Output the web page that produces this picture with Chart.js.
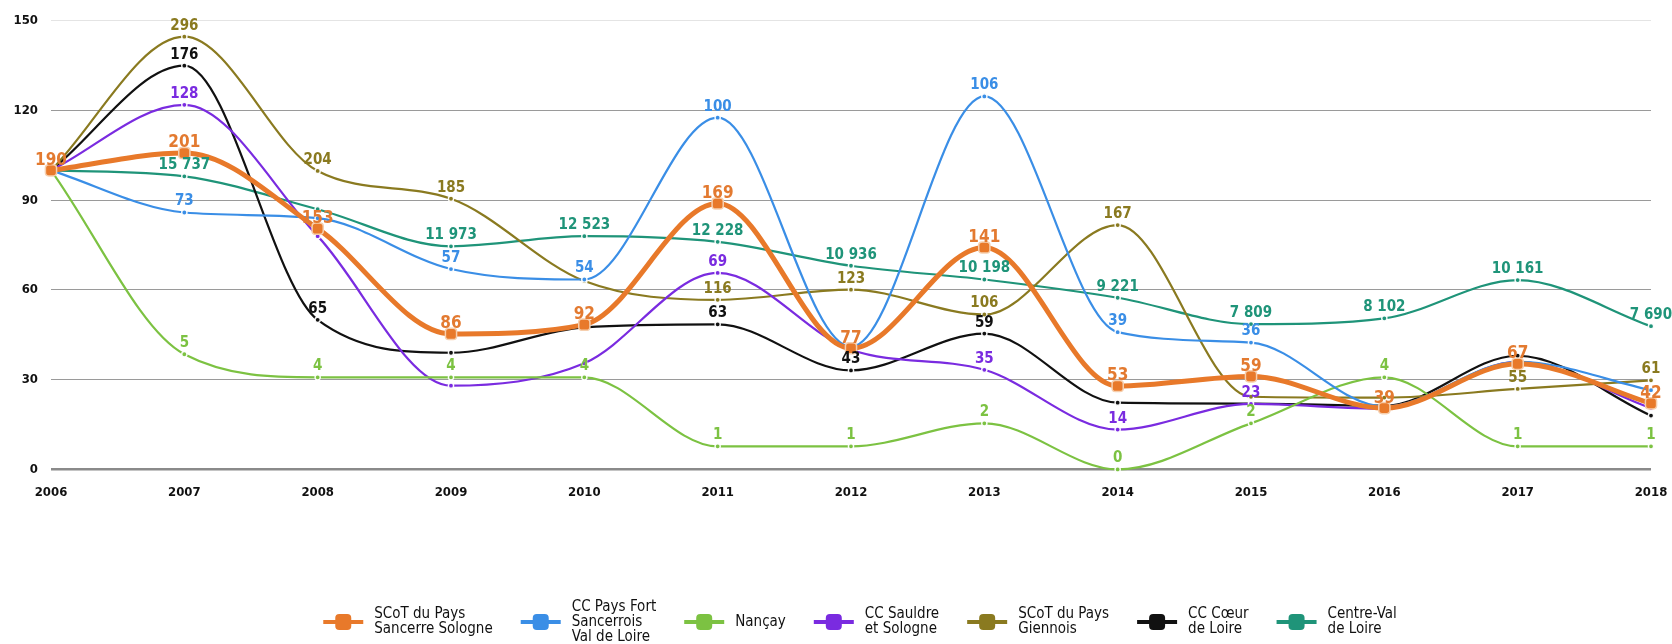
<!DOCTYPE html>
<html lang="fr">
<head>
<meta charset="utf-8">
<title>Évolution (base 100 en 2006)</title>
<script src="https://cdn.jsdelivr.net/npm/chart.js@4.4.1/dist/chart.umd.min.js"></script>
<style>
  html, body { margin: 0; padding: 0; background: #fff; }
  #wrap { width: 1672px; height: 644px; position: relative; }
</style>
</head>
<body>
<div id="wrap"><canvas id="chart" width="1672" height="644"></canvas></div>
<script>
// ---------------------------------------------------------------
// Données : indice base 100 en 2006 + valeurs absolues affichées
// ---------------------------------------------------------------
const years = ["2006", "2007", "2008", "2009", "2010", "2011", "2012",
               "2013", "2014", "2015", "2016", "2017", "2018"];
const yTicks = [0, 30, 60, 90, 120, 150];

const seriesNames = [
  "SCoT du Pays\nSancerre Sologne",
  "CC Pays Fort\nSancerrois\nVal de Loire",
  "Nançay",
  "CC Sauldre\net Sologne",
  "SCoT du Pays\nGiennois",
  "CC Cœur\nde Loire",
  "Centre-Val\nde Loire"
];

// indices
const sancerreIdx = [100, 105.8, 80.5, 45.3, 48.4, 88.9, 40.5, 74.2, 27.9, 31.1, 20.5, 35.3, 22.1];
const fortIdx     = [100, 85.9, 84, 67, 63.5, 117.6, 41, 124.7, 45.9, 42.4, 21, 36, 26.5];
const nancayIdx   = [100, 38.5, 30.8, 30.8, 30.8, 7.7, 7.7, 15.4, 0, 15.4, 30.8, 7.7, 7.7];
const sauldreIdx  = [100, 121.9, 78, 28, 35.5, 65.7, 40, 33.3, 13.3, 21.9, 20.3, 36, 20.5];
const giennoisIdx = [100, 144.7, 99.8, 90.5, 63, 56.7, 60.1, 51.8, 81.7, 24.3, 24, 26.9, 29.8];
const coeurIdx    = [100, 135, 50, 39, 47.5, 48.5, 33.1, 45.4, 22.3, 22, 21.3, 38, 18];
const regionIdx   = [100, 98, 87, 74.6, 78, 76.1, 68.1, 63.5, 57.4, 48.6, 50.5, 63.3, 47.9];

// valeurs absolues écrites au-dessus des points (null = non affichée)
const sancerreAbs = [190, 201, 153, 86, 92, 169, 77, 141, 53, 59, 39, 67, 42];
const fortAbs     = [null, 73, null, 57, 54, 100, null, 106, 39, 36, null, null, null];
const nancayAbs   = [null, 5, 4, 4, 4, 1, 1, 2, 0, 2, 4, 1, 1];
const sauldreAbs  = [null, 128, null, null, null, 69, null, 35, 14, 23, null, null, null];
const giennoisAbs = [null, 296, 204, 185, null, 116, 123, 106, 167, null, null, 55, 61];
const coeurAbs    = [null, 176, 65, null, null, 63, 43, 59, null, null, null, null, null];
const regionAbs   = [null, 15737, null, 11973, 12523, 12228, 10936, 10198, 9221, 7809, 8102, 10161, 7690];

const colors = ["#e8792a", "#3a8ee6", "#7cc242", "#7a2be0", "#8a7a20", "#111111", "#1f9479"];

const FONT = '"DejaVu Sans Condensed", "Liberation Sans Narrow", "DejaVu Sans", sans-serif';

// ---------------------------------------------------------------
function fmt(v) {
  return String(v).replace(/\B(?=(\d{3})+(?!\d))/g, " ");
}

function makeDataset(i, data, abs) {
  const main = i === 0;
  return {
    label: seriesNames[i],
    data: data,
    absLabels: abs,
    borderColor: colors[i],
    backgroundColor: colors[i],
    borderWidth: main ? 5 : 2.2,
    cubicInterpolationMode: "monotone",
    pointStyle: main ? "rectRounded" : "circle",
    pointRadius: main ? 6.5 : 2.6,
    pointBorderColor: main ? "#f6cfae" : "rgba(255,255,255,0.95)",
    pointBorderWidth: main ? 1.5 : 1.4,
    pointBackgroundColor: colors[i],
    clip: false
  };
}

// étiquettes de valeurs au-dessus des points
const valueLabels = {
  id: "valueLabels",
  afterDatasetsDraw(chart) {
    const ctx = chart.ctx;
    ctx.save();
    ctx.textAlign = "center";
    ctx.textBaseline = "middle";
    for (let di = chart.data.datasets.length - 1; di >= 0; di--) {
      const ds = chart.data.datasets[di];
      const meta = chart.getDatasetMeta(di);
      const main = di === 0;
      ctx.font = (main ? "bold 17px " : "bold 15px ") + FONT;
      ctx.fillStyle = main ? "#e37a30" : ds.borderColor;
      meta.data.forEach((pt, i) => {
        const v = ds.absLabels[i];
        if (v === null || v === undefined) return;
        ctx.fillText(fmt(v), pt.x, pt.y - (main ? 10 : 11));
      });
    }
    ctx.restore();
  }
};

// légende en bas (libellés sur plusieurs lignes)
const bottomLegend = {
  id: "bottomLegend",
  afterDraw(chart) {
    const ctx = chart.ctx;
    const area = chart.chartArea;
    ctx.save();
    ctx.font = "15px " + FONT;
    const lineH = 15;
    const markW = 40, gapText = 11, gapItem = 28;
    const items = chart.data.datasets.map((ds, i) => {
      const lines = ds.label.split("\n");
      const w = Math.max(...lines.map(l => ctx.measureText(l).width));
      return { color: colors[i], lines, w };
    });
    const total = items.reduce((s, it) => s + markW + gapText + it.w, 0) + gapItem * (items.length - 1);
    let x = (area.left + area.right) / 2 + 9 - total / 2;
    const cy = chart.height - 22;
    items.forEach(it => {
      // trait + carré arrondi
      ctx.strokeStyle = it.color;
      ctx.lineWidth = 4;
      ctx.beginPath();
      ctx.moveTo(x, cy);
      ctx.lineTo(x + markW, cy);
      ctx.stroke();
      ctx.fillStyle = it.color;
      ctx.beginPath();
      ctx.roundRect(x + markW / 2 - 8, cy - 8, 16, 16, 4);
      ctx.fill();
      // texte
      ctx.fillStyle = "#111";
      ctx.textAlign = "left";
      ctx.textBaseline = "middle";
      const y0 = cy - (it.lines.length - 1) * lineH / 2;
      it.lines.forEach((l, k) => ctx.fillText(l, x + markW + gapText, y0 + k * lineH));
      x += markW + gapText + it.w + gapItem;
    });
    ctx.restore();
  }
};

new Chart(document.getElementById("chart"), {
  type: "line",
  data: {
    labels: years,
    datasets: [
      makeDataset(0, sancerreIdx, sancerreAbs),
      makeDataset(1, fortIdx, fortAbs),
      makeDataset(2, nancayIdx, nancayAbs),
      makeDataset(3, sauldreIdx, sauldreAbs),
      makeDataset(4, giennoisIdx, giennoisAbs),
      makeDataset(5, coeurIdx, coeurAbs),
      makeDataset(6, regionIdx, regionAbs)
    ]
  },
  options: {
    responsive: false,
    animation: false,
    devicePixelRatio: 1,
    layout: { padding: { top: 19, right: 21, bottom: 129, left: 0 } },
    plugins: {
      legend: { display: false },
      tooltip: { enabled: false }
    },
    scales: {
      x: {
        afterFit(scale) { scale.paddingLeft = 0; scale.paddingRight = 0; },
        grid: { display: false, drawTicks: false },
        border: { display: false },
        ticks: {
          padding: 15,
          color: "#111",
          font: { family: FONT, size: 13, weight: "bold" },
          maxRotation: 0,
          autoSkip: false
        }
      },
      y: {
        min: 0,
        max: 150,
        afterFit(scale) { scale.width = 51; },
        afterBuildTicks(scale) { scale.ticks = yTicks.map(v => ({ value: v })); },
        border: { display: false },
        grid: {
          drawTicks: false,
          color: c => c.tick.value === 0 ? "#8a8a8a" : (c.tick.value === 150 ? "#e4e4e4" : "#9a9a9a"),
          lineWidth: c => c.tick.value === 0 ? 2.5 : 1
        },
        ticks: {
          padding: 13,
          color: "#111",
          font: { family: FONT, size: 13, weight: "bold" }
        }
      }
    }
  },
  plugins: [valueLabels, bottomLegend]
});
</script>
</body>
</html>
